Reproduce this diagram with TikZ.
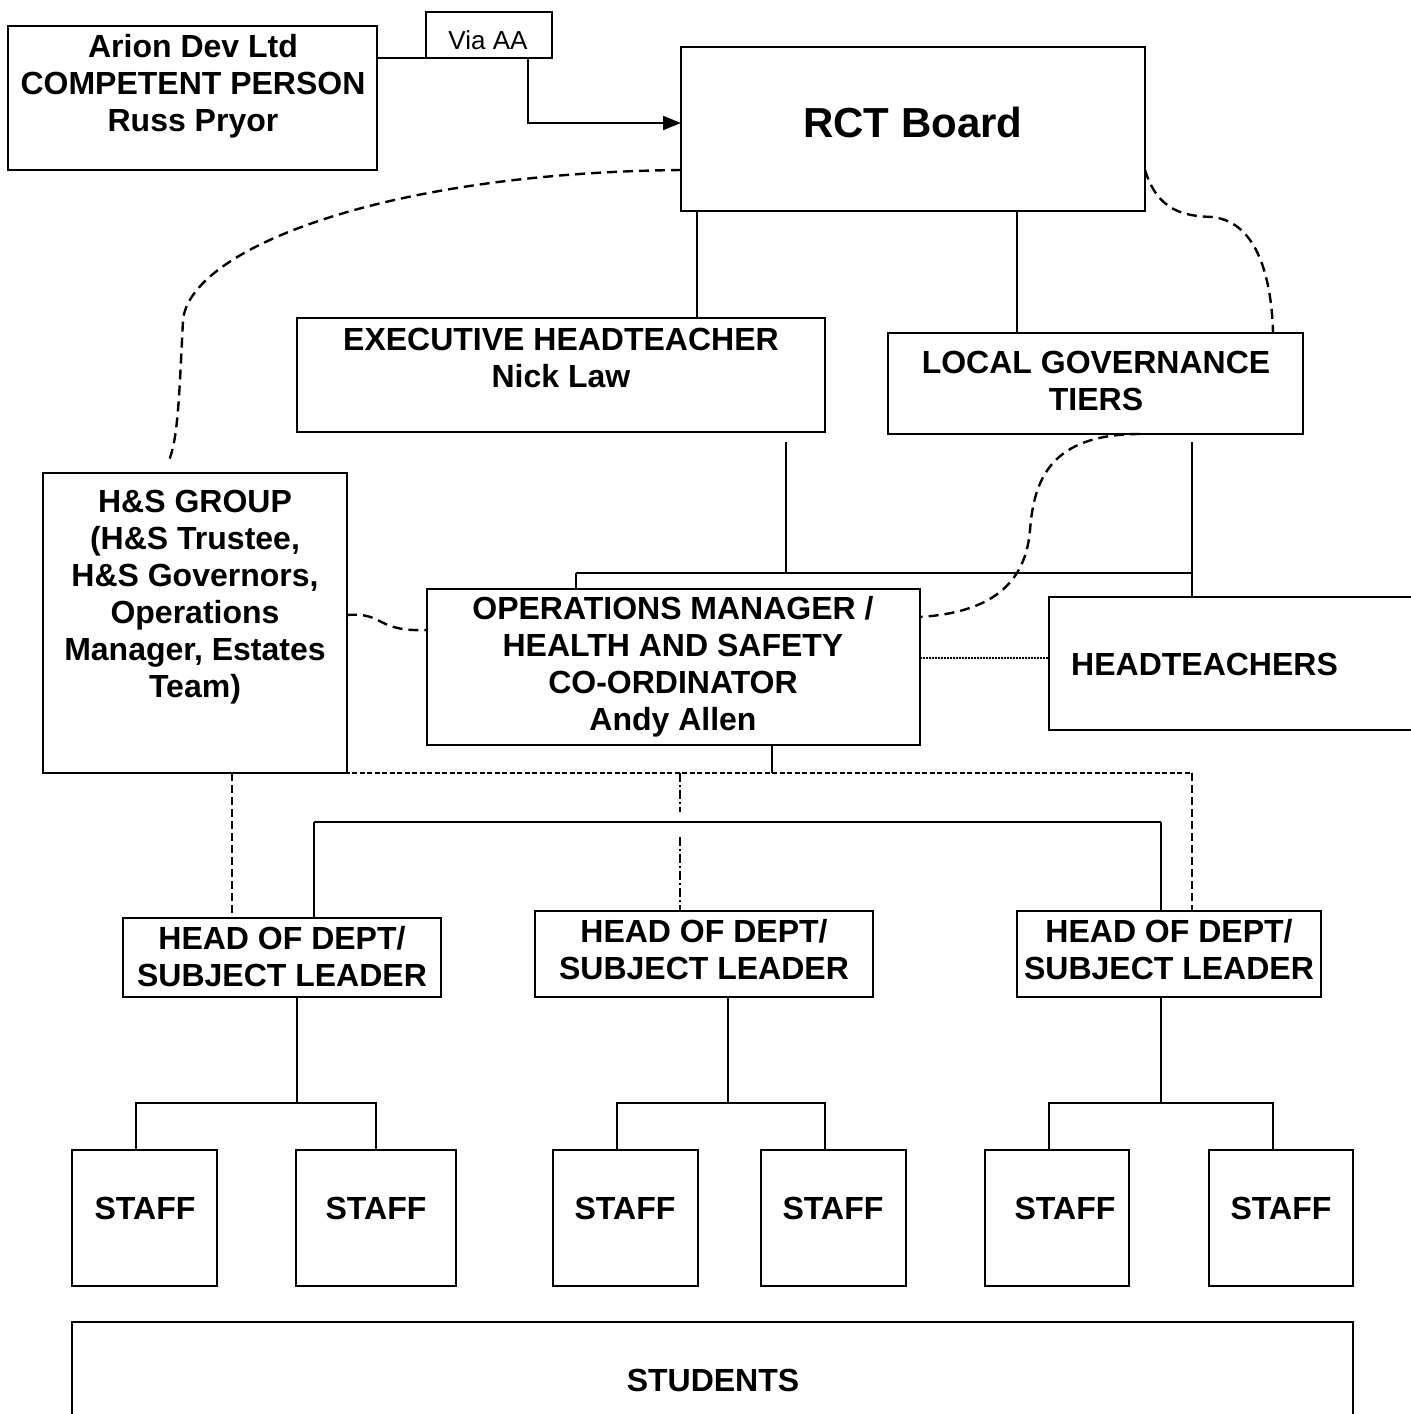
\documentclass[tikz,border=0pt]{standalone}
\usepackage{fontspec}
\setmainfont{Liberation Sans}
\usetikzlibrary{arrows.meta,fit,calc}
\tikzset{
  box/.style={draw, line width=2.2pt, inner sep=0pt, outer sep=0pt},
  lbl/.style={font=\fontsize{32}{37}\selectfont\bfseries, align=center, inner sep=0pt},
  conn/.style={line width=1.6pt},
  dcurve/.style={line width=2.4pt, dash pattern=on 10pt off 6pt},
  sqdash/.style={line width=2pt, dash pattern=on 5pt off 2.5pt},
  vdash/.style={line width=1.6pt, dash pattern=on 8pt off 4pt},
  ddot/.style={line width=1.5pt, dash pattern=on 9pt off 3pt on 2pt off 3pt},
  dotline/.style={line width=2pt, dash pattern=on 1.5pt off 1.5pt}
}
\begin{document}
\begin{tikzpicture}[x=1pt,y=-1pt]
\useasboundingbox (0,0) rectangle (1411,1414);
\clip (0,0) rectangle (1411,1414);
% boxes
\node[box, fit={(8,26)(377,170)}] (arion) {};
\node[lbl] (arion-t) at (193,86) {Arion Dev Ltd\\COMPETENT PERSON\\Russ Pryor};
\node[box, line width=2pt, fit={(426,12)(552,58)}] (via) {};
\node[font=\fontsize{26}{30}\selectfont, inner sep=0pt] (via-t) at (488,40) {Via AA};
\node[box, fit={(681,47)(1145,211)}] (rct) {};
\node[font=\fontsize{42}{48}\selectfont\bfseries, inner sep=0pt] (rct-t) at (913,122) {RCT Board};
\node[box, fit={(297,318)(825,432)}] (exec) {};
\node[lbl] (exec-t) at (561,358) {EXECUTIVE HEADTEACHER\\Nick Law};
\node[box, fit={(888,333)(1303,434)}] (lgt) {};
\node[lbl] (lgt-t) at (1096,381) {LOCAL GOVERNANCE\\TIERS};
\node[box, fit={(43,473)(347,773)}] (hs) {};
\node[lbl] (hs-t) at (195,597) {H\&S GROUP\\(H\&S Trustee,\\H\&S Governors,\\Operations\\Manager, Estates\\Team)};
\node[box, fit={(427,589)(920,745)}] (ops) {};
\node[lbl] (ops-t) at (673,667) {OPERATIONS MANAGER /\\HEALTH AND SAFETY\\CO-ORDINATOR\\Andy Allen};
\node[box, fit={(1049,597)(1430,730)}] (ht) {};
\node[lbl, anchor=west] (ht-t) at (1071,664) {HEADTEACHERS};
\node[box, fit={(123,918)(441,997)}] (hod1) {};
\node[lbl] (hod1-t) at (282,957) {HEAD OF DEPT/\\SUBJECT LEADER};
\node[box, fit={(535,911)(873,997)}] (hod2) {};
\node[lbl] (hod2-t) at (704,950) {HEAD OF DEPT/\\SUBJECT LEADER};
\node[box, fit={(1017,911)(1321,997)}] (hod3) {};
\node[lbl] (hod3-t) at (1169,950) {HEAD OF DEPT/\\SUBJECT LEADER};
\node[box, fit={(72,1150)(217,1286)}] (s1) {};
\node[box, fit={(296,1150)(456,1286)}] (s2) {};
\node[box, fit={(553,1150)(698,1286)}] (s3) {};
\node[box, fit={(761,1150)(906,1286)}] (s4) {};
\node[box, fit={(985,1150)(1129,1286)}] (s5) {};
\node[box, fit={(1209,1150)(1353,1286)}] (s6) {};
\node[lbl] (s1-t) at (145,1208) {STAFF};
\node[lbl] (s2-t) at (376,1208) {STAFF};
\node[lbl] (s3-t) at (625,1208) {STAFF};
\node[lbl] (s4-t) at (833,1208) {STAFF};
\node[lbl] (s5-t) at (1065,1208) {STAFF};
\node[lbl] (s6-t) at (1281,1208) {STAFF};
\node[box, fit={(72,1322)(1353,1440)}] (stud) {};
\node[lbl] (stud-t) at (713,1380) {STUDENTS};
% connectors top
\draw[conn, line width=2pt] ([yshift=-32pt]arion.north east) -- (via.south west);
\draw[conn, line width=2pt, -{Triangle[length=18pt,width=14pt]}] ([xshift=-24pt]via.south east) |- ([yshift=6pt]rct.west);
\draw[conn] ([xshift=16pt]rct.south west) -- (697,0 |- exec.north);
\draw[conn] (1017,0 |- rct.south) -- (1017,0 |- lgt.north);
% dashed curves
\draw[dcurve] ([yshift=41pt]rct.south west) .. controls (380,173) and (190,250) .. (183,320)
   .. controls (179,400) and (178,440) .. ([xshift=125pt,yshift=10pt]hs.north west);
\draw[dcurve] ([yshift=41pt]rct.south east) .. controls (1158,212) and (1185,216) .. (1212,217)
   .. controls (1262,222) and (1272,290) .. ([xshift=-30pt]lgt.north east);
\draw[dcurve] ([xshift=252pt]lgt.south west) .. controls (1050,434) and (1034,480) .. (1030,530)
   .. controls (1025,592) and (980,613) .. ([yshift=-28pt]ops.north east);
\draw[dcurve] ([yshift=-142pt]hs.north east) .. controls (385,612) and (375,632) .. ([yshift=-41pt]ops.north west);
\draw[dotline] ([yshift=-69pt]ops.north east) -- (ht.west |- 0,658);
% exec / lgt to ops / headteachers
\coordinate (exd) at (786,442);
\coordinate (lgd) at (1192,442);
\coordinate (jl) at (576,573);
\coordinate (jr) at (1192,573);
\draw[conn] (exd) -- (786,573);
\draw[conn] (jl) -- (jr);
\draw[conn] (jl) -- (576,0 |- ops.north);
\draw[conn] (lgd) -- (1192,0 |- ht.north);
% ops to HODs
\coordinate (ob) at (772,773);
\draw[conn] (772,0 |- ops.south) -- (ob);
\draw[sqdash] (232,773) -- (1192,773);
\draw[vdash] (232,773) -- (232,0 |- hod1.north);
\draw[vdash] (1192,773) -- (1192,0 |- hod3.north);
\draw[ddot] (680,773) -- (680,812);
\draw[ddot] (680,837) -- (680,0 |- hod2.north);
\draw[conn] (314,822) -- (1161,822);
\draw[conn] (314,822) -- (314,0 |- hod1.north);
\draw[conn] (1161,822) -- (1161,0 |- hod3.north);
% HOD to staff
\draw[conn] (297,0 |- hod1.south) -- (297,1103);
\draw[conn] (136,0 |- s1.north) |- (376,1103) -- (376,0 |- s2.north);
\draw[conn] (728,0 |- hod2.south) -- (728,1103);
\draw[conn] (617,0 |- s3.north) |- (825,1103) -- (825,0 |- s4.north);
\draw[conn] (1161,0 |- hod3.south) -- (1161,1103);
\draw[conn] (1049,0 |- s5.north) |- (1273,1103) -- (1273,0 |- s6.north);
\end{tikzpicture}
\end{document}
